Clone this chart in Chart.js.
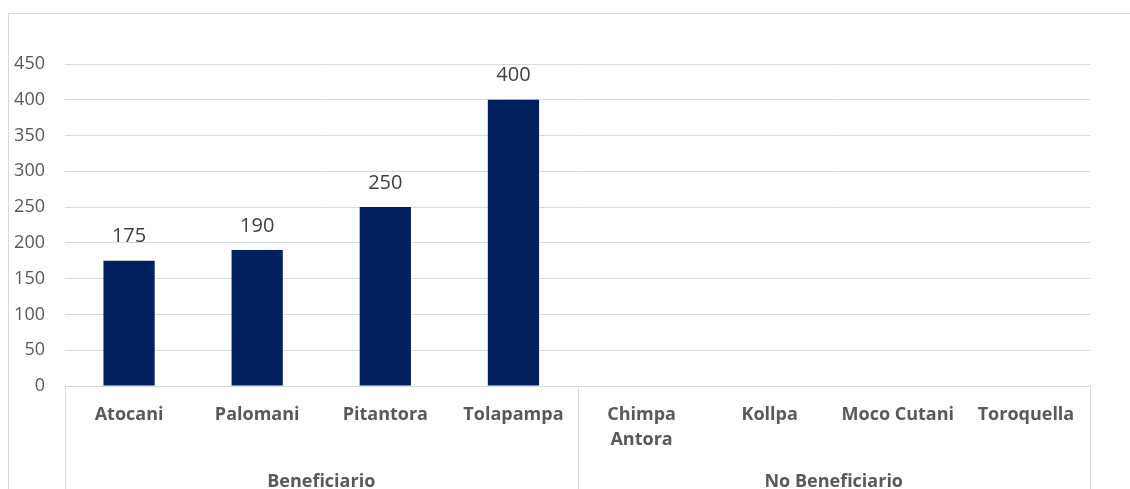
<!DOCTYPE html>
<html>
<head>
<meta charset="utf-8">
<script src="https://cdn.jsdelivr.net/npm/chart.js@4.4.0/dist/chart.umd.min.js"></script>
<style>
  html, body { margin: 0; padding: 0; background: #fff; }
  #wrap { position: relative; width: 1130px; height: 489px; }
</style>
</head>
<body>
<div id="wrap"><canvas id="myChart" width="1130" height="489"></canvas></div>
<script>
// comunidades y grupo al que pertenecen
const comunidades = ['Atocani', 'Palomani', 'Pitantora', 'Tolapampa', ['Chimpa', 'Antora'], 'Kollpa', 'Moco Cutani', 'Toroquella'];
const grupos = ['Beneficiario', 'No Beneficiario'];
const grupoSize = [4, 4];
const valores = [175, 190, 250, 400, null, null, null, null];
const yTicks = [0, 50, 100, 150, 200, 250, 300, 350, 400, 450];

const gris = '#d9d9d9';
const fontFam = "'Open Sans', 'Liberation Sans', sans-serif";

// marco exterior, separadores de grupo y etiquetas de datos
const extras = {
  id: 'extras',
  beforeDraw(chart) {
    const c = chart.ctx;
    c.save();
    c.strokeStyle = gris;
    c.lineWidth = 1;
    c.beginPath();
    c.moveTo(8.5, chart.height);
    c.lineTo(8.5, 13.5);
    c.lineTo(chart.width, 13.5);
    c.stroke();
    c.restore();
  },
  afterDraw(chart) {
    const c = chart.ctx;
    const area = chart.chartArea;
    const step = (area.right - area.left) / comunidades.length;
    c.save();
    c.strokeStyle = gris;
    c.lineWidth = 1;
    // lineas verticales entre grupos
    let idx = 0;
    const bounds = [area.left];
    grupoSize.forEach(n => { idx += n; bounds.push(area.left + idx * step); });
    bounds.forEach(b => {
      c.beginPath();
      c.moveTo(Math.round(b) + 0.5, area.bottom);
      c.lineTo(Math.round(b) + 0.5, chart.height);
      c.stroke();
    });
    // nombres de grupo
    c.fillStyle = '#595959';
    c.font = 'bold 18px ' + fontFam;
    c.textAlign = 'center';
    c.textBaseline = 'middle';
    grupos.forEach((g, i) => {
      c.fillText(g, (bounds[i] + bounds[i + 1]) / 2, 482);
    });
    // valores sobre las barras
    c.fillStyle = '#404040';
    c.font = '20px ' + fontFam;
    const meta = chart.getDatasetMeta(0);
    meta.data.forEach((bar, i) => {
      if (valores[i] == null) return;
      c.fillText(String(valores[i]), bar.x, bar.y - 24);
    });
    c.restore();
  }
};

new Chart(document.getElementById('myChart'), {
  type: 'bar',
  data: {
    labels: comunidades,
    datasets: [{
      data: valores,
      backgroundColor: '#002060',
      borderWidth: 0,
      categoryPercentage: 1,
      barPercentage: 0.4
    }]
  },
  options: {
    responsive: false,
    animation: false,
    layout: { padding: { top: 64, right: 40, left: 0, bottom: 0 } },
    plugins: { legend: { display: false }, tooltip: { enabled: false } },
    scales: {
      x: {
        grid: { display: false, drawTicks: false },
        border: { display: true, color: gris, width: 1 },
        ticks: {
          color: '#595959',
          font: { family: fontFam, size: 18, weight: 'bold', lineHeight: 1.4 },
          padding: 16,
          maxRotation: 0,
          autoSkip: false
        },
        afterFit(scale) { scale.height = 103; }
      },
      y: {
        min: 0,
        max: 450,
        afterBuildTicks(scale) { scale.ticks = yTicks.map(v => ({ value: v })); },
        grid: { color: gris, lineWidth: 1, drawTicks: false },
        border: { display: false },
        ticks: {
          color: '#595959',
          font: { family: fontFam, size: 18 },
          padding: 20
        },
        afterFit(scale) { scale.width = 65; }
      }
    }
  },
  plugins: [extras]
});
</script>
</body>
</html>
